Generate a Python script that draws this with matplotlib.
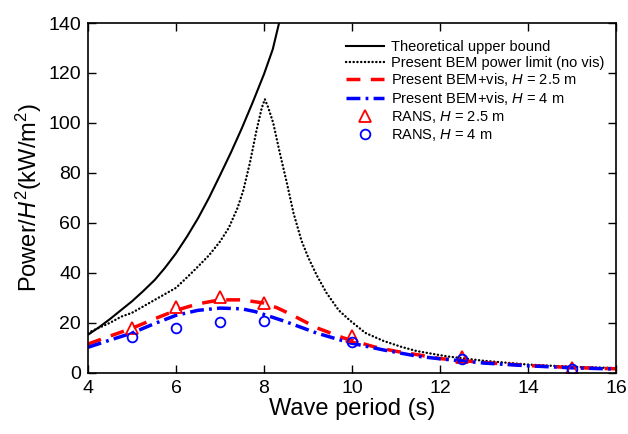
import matplotlib
matplotlib.use("Agg")
import matplotlib.pyplot as plt
import numpy as np

plt.rcParams['font.family'] = ['Liberation Sans', 'DejaVu Sans']
plt.rcParams['mathtext.fontset'] = 'custom'
plt.rcParams['mathtext.rm'] = 'Liberation Sans'
plt.rcParams['mathtext.it'] = 'Liberation Sans:italic'

# Theoretical upper bound
T_upper = [4, 4.25, 4.5, 4.76, 5, 5.25, 5.52, 5.75, 6, 6.25, 6.5, 6.75, 7, 7.25,
           7.5, 7.75, 8.0, 8.2, 8.35]
P_upper = [15.2, 18.2, 21.5, 25.2, 28.6, 32.6, 37.2, 42, 47.8, 54.5, 61.8, 70, 79, 88.2,
           98, 108.5, 119.5, 129.5, 140.5]

# Present BEM power limit (no vis)
T_lim = [4, 4.5, 4.76, 5, 5.52, 6, 6.27, 6.5, 6.75, 7, 7.2, 7.4, 7.53, 7.68, 7.83,
         7.95, 8.02, 8.1, 8.21, 8.36, 8.52, 8.67, 8.85, 9.01, 9.2, 9.42, 9.7, 9.95,
         10.3, 10.71, 11.1, 11.47, 12.15, 13, 14, 15, 16]
P_lim = [16, 20, 22.5, 24, 29.2, 34, 38.5, 42.5, 47, 52.5, 58, 66, 73, 84, 97,
         106, 109.5, 106, 100, 88, 76, 64, 53, 46, 39, 32, 25, 21,
         16, 12.8, 10.5, 8.7, 6.6, 4.8, 3.3, 2.4, 1.9]

# Present BEM+vis, H = 2.5 m
T_vis_25 = [4, 4.5, 5, 5.5, 6, 6.5, 7, 7.5, 8, 8.3, 8.6, 9.2, 9.8, 10.5, 11, 11.5,
            12, 13, 14, 15, 16]
P_vis_25 = [11.5, 14.7, 17.8, 21.5, 25, 27.6, 29.2, 29.2, 27.9, 26, 23.5, 18, 14,
            10.4, 8.6, 7.2, 5.7, 4.1, 2.9, 2.1, 1.6]

# Present BEM+vis, H = 4 m
T_vis_4 = [4, 4.5, 5, 5.5, 6, 6.5, 7, 7.5, 7.8, 8.44, 9.2, 9.95, 10.7, 11.5, 12,
           13, 14, 15, 16]
P_vis_4 = [10.2, 13.1, 15.9, 19.6, 23, 25, 25.9, 25.6, 24.5, 20.8, 15.9, 12,
           9.2, 6.6, 5.6, 3.9, 2.8, 2, 1.5]

# RANS
T_rans = [5, 6, 7, 8, 10, 12.5, 15]
P_rans_25 = [18, 26.5, 30.5, 28, 14.8, 6.5, 1.9]
P_rans_4 = [14.5, 18.1, 20.3, 20.8, 12.5, 5.6, 1.6]

fig = plt.figure(figsize=(6.28, 4.34), dpi=100)
ax = fig.add_axes([0.140, 0.141, 0.841, 0.806])

ax.plot(T_upper, P_upper, color='black', lw=1.5, label='Theoretical upper bound')
ax.plot(T_lim, P_lim, color='black', lw=1.7, linestyle=(0, (0.1, 1.5)),
        dash_capstyle='round', label='Present BEM power limit (no vis)')
ax.plot(T_vis_25, P_vis_25, color='red', lw=2.5, linestyle=(0, (4, 3)),
        label='Present BEM+vis, $H$ = 2.5 m')
ax.plot(T_vis_4, P_vis_4, color='blue', lw=2.5, linestyle=(0, (4, 1.5, 0.8, 1.5)),
        label='Present BEM+vis, $H$ = 4 m')
ax.plot(T_rans, P_rans_25, linestyle='none', marker='^', ms=8, mfc='none',
        mec='red', mew=1.3, label='RANS, $H$ = 2.5 m')
ax.plot(T_rans, P_rans_4, linestyle='none', marker='o', ms=7, mfc='none',
        mec='blue', mew=1.3, label='RANS, $H$ = 4 m')

ax.set_xlim(4, 16)
ax.set_ylim(0, 140)
ax.set_xticks(np.arange(4, 17, 2))
ax.set_yticks(np.arange(0, 141, 20))
ax.tick_params(direction='in', top=True, right=True, length=6, width=1,
               labelsize=14, pad=5)
for s in ax.spines.values():
    s.set_linewidth(1.2)

ax.set_xlabel('Wave period (s)', fontsize=17, labelpad=1)
ax.set_ylabel('Power/$H^2$(kW/m$^2$)', fontsize=17, labelpad=3)

ax.legend(loc='upper right', frameon=False, fontsize=10.5, handlelength=2.6,
          handletextpad=0.5, labelspacing=0.12, borderaxespad=0.4,
          bbox_to_anchor=(1.0, 0.985))

fig.savefig('out.png', dpi=100)
